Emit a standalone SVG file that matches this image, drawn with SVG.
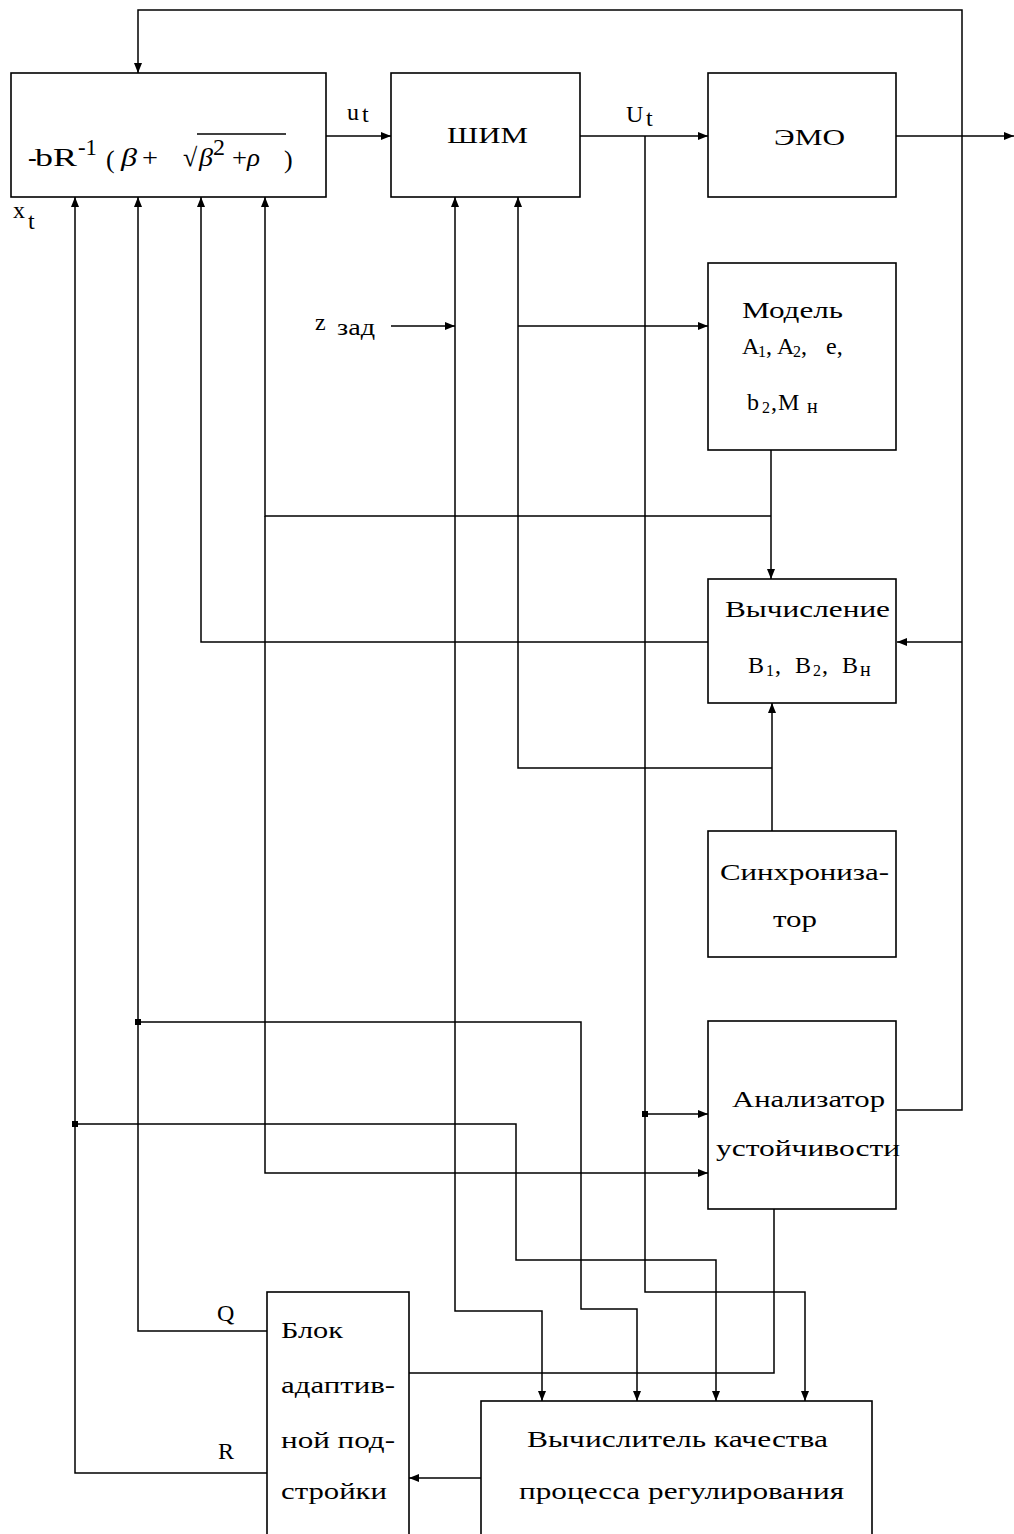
<svg xmlns="http://www.w3.org/2000/svg" width="1014" height="1534" viewBox="0 0 1014 1534">
<defs>
<marker id="arr" markerUnits="userSpaceOnUse" viewBox="0 0 10 8" markerWidth="10" markerHeight="8" refX="10" refY="4" orient="auto">
<path d="M0,0 L10,4 L0,8 z" fill="#000"/>
</marker>
</defs>
<style>
.box{fill:#fff;stroke:#000;stroke-width:1.6}
.ln{fill:none;stroke:#000;stroke-width:1.5}
.a{marker-end:url(#arr)}
text{font-family:"Liberation Serif","Times New Roman",serif;font-size:24px;fill:#000}
.sub{font-size:16px}
.f{font-size:26px}
.it{font-style:italic}
</style>
<rect width="1014" height="1534" fill="#fff"/>
<g id="connectors">
<path class="ln a" d="M897,1110 H962 V10 H138 V73"/>
<path class="ln a" d="M962,642 H897"/>
<path class="ln a" d="M326,136 H391"/>
<path class="ln a" d="M580,136 H708"/>
<path class="ln a" d="M896,136 H1014"/>
<path class="ln a" d="M645,136 V1292 H805 V1401"/>
<path class="ln a" d="M645,1114 H708"/>
<path class="ln a" d="M267,1473 H75 V197"/>
<path class="ln a" d="M267,1331 H138 V197"/>
<path class="ln a" d="M138,1022 H581 V1309 H637 V1401"/>
<path class="ln a" d="M75,1124 H516 V1260 H716 V1401"/>
<path class="ln a" d="M708,642 H201 V197"/>
<path class="ln a" d="M771,450 V579"/>
<path class="ln a" d="M771,516 H265 V197"/>
<path class="ln a" d="M265,516 V1173 H708"/>
<path class="ln a" d="M772,831 V703"/>
<path class="ln a" d="M772,768 H518 V197"/>
<path class="ln a" d="M518,326 H708"/>
<path class="ln a" d="M391,326 H455"/>
<path class="ln a" d="M455,326 V197"/>
<path class="ln a" d="M455,326 V1311 H542 V1401"/>
<path class="ln" d="M774,1209 V1373 H409"/>
<path class="ln a" d="M481,1478 H409"/>
<rect x="135" y="1019" width="6" height="6"/>
<rect x="72" y="1121" width="6" height="6"/>
<rect x="642" y="1111" width="6" height="6"/>
</g>
<g id="labels">
<text x="13" y="218" font-size="22">x</text><text x="28" y="229" font-size="18">t</text>
<text x="347" y="120" font-size="21">u</text><text x="362" y="122" font-size="15">t</text>
<text x="626" y="122" font-size="26">U</text><text x="646" y="126" font-size="16">t</text>
<text x="315" y="330">z</text><text x="337" y="335" font-size="20" textLength="38" lengthAdjust="spacingAndGlyphs">зад</text>
<text x="217" y="1321" font-size="22">Q</text>
<text x="218" y="1459" font-size="22">R</text>
</g>
<g id="formula">
<rect class="box" x="11" y="73" width="315" height="124"/>
<text class="f" x="28" y="166">-</text>
<text class="f" x="35" y="166" textLength="42" lengthAdjust="spacingAndGlyphs">bR</text>
<text x="78" y="155" font-size="16" textLength="19" lengthAdjust="spacingAndGlyphs">-1</text>
<text class="f" x="106" y="168">(</text>
<text class="f it" x="121" y="166" textLength="16" lengthAdjust="spacingAndGlyphs">β</text>
<text class="f" x="142" y="166" textLength="16" lengthAdjust="spacingAndGlyphs">+</text>
<text class="f" x="183" y="166">√</text>
<text class="f it" x="199" y="166" textLength="14" lengthAdjust="spacingAndGlyphs">β</text>
<text x="213" y="155" font-size="15">2</text>
<text class="f" x="232" y="166" textLength="15" lengthAdjust="spacingAndGlyphs">+</text>
<text class="f it" x="247" y="166" textLength="13" lengthAdjust="spacingAndGlyphs">ρ</text>
<text class="f" x="284" y="168">)</text>
<line class="ln" x1="197" y1="134" x2="286" y2="134"/>
</g>
<g id="shim">
<rect class="box" x="391" y="73" width="189" height="124"/>
<text x="447" y="143" font-size="26" textLength="81" lengthAdjust="spacingAndGlyphs">ШИМ</text>
</g>
<g id="emo">
<rect class="box" x="708" y="73" width="188" height="124"/>
<text x="774" y="145" font-size="26" textLength="71" lengthAdjust="spacingAndGlyphs">ЭМО</text>
</g>
<g id="model">
<rect class="box" x="708" y="263" width="188" height="187"/>
<text x="742" y="318" textLength="101" lengthAdjust="spacingAndGlyphs">Модель</text>
<text y="354"><tspan x="742">A</tspan><tspan x="758" y="357" class="sub">1</tspan><tspan x="766" y="354">,</tspan><tspan x="777">A</tspan><tspan x="793" y="357" class="sub">2</tspan><tspan x="801" y="354">,</tspan><tspan x="826">e,</tspan></text>
<text y="410"><tspan x="747">b</tspan><tspan x="762" y="413" class="sub">2</tspan><tspan x="771" y="410">,</tspan><tspan x="778">M</tspan><tspan x="807" y="413" font-size="20">н</tspan></text>
</g>
<g id="calc">
<rect class="box" x="708" y="579" width="188" height="124"/>
<text x="725" y="617" textLength="165" lengthAdjust="spacingAndGlyphs">Вычисление</text>
<text y="673"><tspan x="748">B</tspan><tspan x="766" y="676" class="sub">1</tspan><tspan x="775" y="673">,</tspan><tspan x="795">B</tspan><tspan x="813" y="676" class="sub">2</tspan><tspan x="822" y="673">,</tspan><tspan x="842">B</tspan><tspan x="860" y="676" font-size="20">н</tspan></text>
</g>
<g id="sync">
<rect class="box" x="708" y="831" width="188" height="126"/>
<text x="720" y="880" textLength="169" lengthAdjust="spacingAndGlyphs">Синхрониза-</text>
<text x="773" y="927" textLength="44" lengthAdjust="spacingAndGlyphs">тор</text>
</g>
<g id="analyzer">
<rect class="box" x="708" y="1021" width="188" height="188"/>
<text x="732" y="1107" textLength="153" lengthAdjust="spacingAndGlyphs">Анализатор</text>
<text x="716" y="1156" textLength="184" lengthAdjust="spacingAndGlyphs">устойчивости</text>
</g>
<g id="adapt">
<rect class="box" x="267" y="1292" width="142" height="260"/>
<text x="281" y="1338" textLength="62" lengthAdjust="spacingAndGlyphs">Блок</text>
<text x="281" y="1393" textLength="114" lengthAdjust="spacingAndGlyphs">адаптив-</text>
<text x="281" y="1448" textLength="114" lengthAdjust="spacingAndGlyphs">ной под-</text>
<text x="281" y="1499" textLength="106" lengthAdjust="spacingAndGlyphs">стройки</text>
</g>
<g id="quality">
<rect class="box" x="481" y="1401" width="391" height="150"/>
<text x="527" y="1447" textLength="301" lengthAdjust="spacingAndGlyphs">Вычислитель качества</text>
<text x="519" y="1499" textLength="325" lengthAdjust="spacingAndGlyphs">процесса регулирования</text>
</g>
</svg>
